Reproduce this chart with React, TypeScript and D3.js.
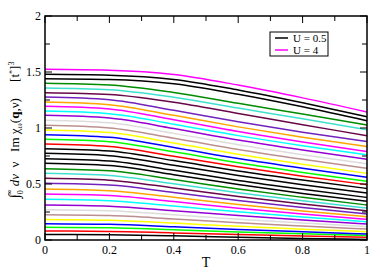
import React from "react"
import * as d3 from "d3"

const temps = [0, 0.2, 0.4, 0.6, 0.8, 1]

// grace palette, bottom curve first
const seriesColors = [
  "#000000", "#ff0000", "#00ff00", "#0000ff", "#ffff00", "#bc8f8f", "#dcdcdc", "#9400d3",
  "#00ffff", "#ff00ff", "#ffa500", "#7221bc", "#670748", "#40e0d0", "#008b00",
  "#000000", "#000000", "#000000", "#000000",
  "#ff0000", "#00ff00", "#0000ff", "#ffff00", "#bc8f8f", "#dcdcdc", "#9400d3",
  "#00ffff", "#ff00ff", "#ffa500", "#7221bc", "#670748", "#40e0d0", "#008b00",
  "#000000", "#000000", "#ff00ff",
]

const seriesValues = [
  [0.05, 0.047, 0.037, 0.025, 0.014, 0.005],
  [0.08, 0.077, 0.063, 0.049, 0.036, 0.024],
  [0.113, 0.109, 0.091, 0.072, 0.055, 0.04],
  [0.146, 0.14, 0.118, 0.094, 0.073, 0.054],
  [0.184, 0.177, 0.151, 0.122, 0.097, 0.074],
  [0.226, 0.218, 0.188, 0.154, 0.125, 0.098],
  [0.271, 0.262, 0.225, 0.186, 0.151, 0.119],
  [0.3125, 0.302, 0.262, 0.218, 0.179, 0.143],
  [0.363, 0.351, 0.303, 0.252, 0.206, 0.164],
  [0.41, 0.397, 0.343, 0.284, 0.232, 0.185],
  [0.455, 0.44, 0.381, 0.317, 0.26, 0.208],
  [0.506, 0.49, 0.424, 0.353, 0.29, 0.232],
  [0.551, 0.534, 0.464, 0.388, 0.321, 0.26],
  [0.595, 0.576, 0.502, 0.421, 0.35, 0.285],
  [0.637, 0.618, 0.54, 0.455, 0.381, 0.3125],
  [0.685, 0.665, 0.583, 0.495, 0.416, 0.345],
  [0.726, 0.705, 0.622, 0.532, 0.453, 0.38],
  [0.774, 0.753, 0.668, 0.576, 0.494, 0.42],
  [0.815, 0.794, 0.709, 0.616, 0.535, 0.46],
  [0.857, 0.835, 0.748, 0.654, 0.57, 0.494],
  [0.899, 0.877, 0.787, 0.689, 0.603, 0.524],
  [0.94, 0.917, 0.826, 0.727, 0.64, 0.56],
  [0.982, 0.959, 0.866, 0.765, 0.676, 0.595],
  [1.024, 1.001, 0.909, 0.809, 0.721, 0.64],
  [1.069, 1.046, 0.952, 0.851, 0.762, 0.68],
  [1.113, 1.089, 0.995, 0.893, 0.803, 0.72],
  [1.152, 1.128, 1.034, 0.932, 0.842, 0.76],
  [1.194, 1.17, 1.073, 0.968, 0.875, 0.79],
  [1.232, 1.208, 1.113, 1.01, 0.918, 0.835],
  [1.277, 1.253, 1.158, 1.055, 0.963, 0.88],
  [1.315, 1.3, 1.23, 1.13, 1.03, 0.93],
  [1.357, 1.342, 1.275, 1.178, 1.082, 0.985],
  [1.399, 1.384, 1.317, 1.22, 1.124, 1.027],
  [1.44, 1.433, 1.395, 1.301, 1.189, 1.065],
  [1.48, 1.472, 1.434, 1.339, 1.225, 1.1],
  [1.524, 1.516, 1.478, 1.383, 1.269, 1.143],
]

const legendLabels = ["U = 0.5", "U = 4"]
const legendColors = ["#000000", "#ff00ff"]

const xMajor = [0, 0.2, 0.4, 0.6, 0.8, 1]
const xMinor = [0.1, 0.3, 0.5, 0.7, 0.9]
const yMajor = [0, 0.5, 1, 1.5, 2]
const yMinor = [0.25, 0.75, 1.25, 1.75]

const font = "'Liberation Serif', 'DejaVu Serif', serif"

export default function App() {
  const left = 45, right = 367, top = 16, bottom = 240
  const x = d3.scaleLinear().domain([0, 1]).range([left, right])
  const y = d3.scaleLinear().domain([0, 2]).range([bottom, top])
  const line = d3.line<number>()
    .x((d, i) => x(temps[i]))
    .y(d => y(d))
    .curve(d3.curveMonotoneX)

  const major = 7
  const minor = 5

  return (
    <svg width={374} height={275} style={{ position: "absolute", left: 0, top: 0, background: "#fff" }}>
      <g>
        {seriesValues.map((vals, i) => (
          <path key={i} d={line(vals) || ""} fill="none" stroke={seriesColors[i]} strokeWidth={1.5} />
        ))}
      </g>
      <rect x={left} y={top} width={right - left} height={bottom - top} fill="none" stroke="#000" strokeWidth={1.5} />
      {xMajor.concat(xMinor).map((t, i) => {
        const len = i < xMajor.length ? major : minor
        return (
          <g key={"x" + i} stroke="#000" strokeWidth={1}>
            <line x1={x(t)} x2={x(t)} y1={bottom} y2={bottom - len} />
            <line x1={x(t)} x2={x(t)} y1={top} y2={top + len} />
          </g>
        )
      })}
      {yMajor.concat(yMinor).map((v, i) => {
        const len = i < yMajor.length ? major : minor
        return (
          <g key={"y" + i} stroke="#000" strokeWidth={1}>
            <line x1={left} x2={left + len} y1={y(v)} y2={y(v)} />
            <line x1={right} x2={right - len} y1={y(v)} y2={y(v)} />
          </g>
        )
      })}
      {xMajor.map(t => (
        <text key={"xl" + t} x={x(t)} y={bottom + 14} textAnchor="middle" fontFamily={font} fontSize={12}>
          {d3.format("~g")(t)}
        </text>
      ))}
      {yMajor.map(v => (
        <text key={"yl" + v} x={left - 4} y={y(v) + 4} textAnchor="end" fontFamily={font} fontSize={12}>
          {d3.format("~g")(v)}
        </text>
      ))}
      <text x={(left + right) / 2} y={267} textAnchor="middle" fontFamily={font} fontSize={14}>T</text>
      <text transform="translate(19,130) rotate(-90)" textAnchor="middle" fontFamily={font} fontSize={13}
        style={{ whiteSpace: "pre" }}>
        <tspan fontSize={15}>∫</tspan>
        <tspan fontSize={8} dy={4}>0</tspan>
        <tspan fontSize={8} dx={-5} dy={-11}>∞</tspan>
        <tspan dy={7} fontStyle="italic"> dν</tspan>
        <tspan>  ν   Im χ</tspan>
        <tspan fontSize={8} dy={3}>ω</tspan>
        <tspan dy={-3}>(</tspan>
        <tspan fontWeight="bold">q</tspan>
        <tspan>,ν)     [t</tspan>
        <tspan fontSize={8} dy={-4}>*</tspan>
        <tspan dy={4}>]</tspan>
        <tspan fontSize={8} dy={-5}>3</tspan>
      </text>
      <rect x={270} y={32} width={58} height={24} fill="#fff" stroke="#000" strokeWidth={1} />
      {legendLabels.map((lab, i) => (
        <g key={lab}>
          <line x1={275} x2={288} y1={38 + i * 12} y2={38 + i * 12} stroke={legendColors[i]} strokeWidth={1.5} />
          <text x={293} y={42 + i * 12} fontFamily={font} fontSize={11}>{lab}</text>
        </g>
      ))}
    </svg>
  )
}
